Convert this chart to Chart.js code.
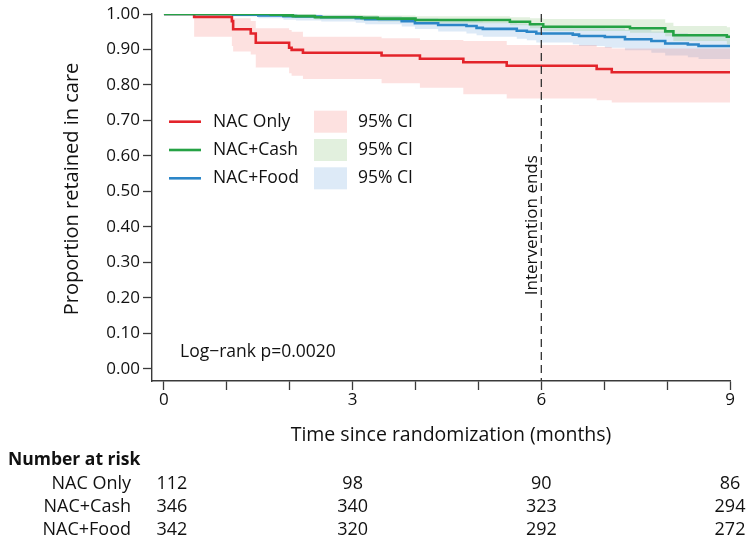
<!DOCTYPE html>
<html>
<head>
<meta charset="utf-8">
<script src="https://cdn.jsdelivr.net/npm/chart.js@4.4.1/dist/chart.umd.min.js"></script>
<style>
html,body{margin:0;padding:0;background:#fff;}
#wrap{position:relative;width:754px;height:542px;}
</style>
</head>
<body>
<div id="wrap"><canvas id="c" width="754" height="542"></canvas></div>
<script>
// ---------- data ----------
const groups = ['NAC Only', 'NAC+Cash', 'NAC+Food'];
const riskMonths = [0, 3, 6, 9];
const riskNacOnly = [112, 98, 90, 86];
const riskNacCash = [346, 340, 323, 294];
const riskNacFood = [342, 320, 292, 272];
const xTickValues = [0, 1, 2, 3, 4, 5, 6, 7, 8, 9];
const xTickLabels = ['0', '', '', '3', '', '', '6', '', '', '9'];
const yTickValues = [0, 0.1, 0.2, 0.3, 0.4, 0.5, 0.6, 0.7, 0.8, 0.9, 1.0];
const interventionEnd = 6;
const pValueText = 'Log\u2212rank p=0.0020';

// NAC Only (Kaplan-Meier steps)
const onlyT  = [0, 0.48, 1.08, 1.10, 1.38, 1.46, 1.99, 2.03, 2.21, 3.46, 4.07, 4.76, 5.45, 6.88, 7.12, 9.0];
const onlyS  = [1.000, 0.992, 0.980, 0.957, 0.945, 0.919, 0.905, 0.899, 0.891, 0.883, 0.874, 0.864, 0.854, 0.845, 0.836, 0.836];
const onlyLo = [1.000, 0.936, 0.910, 0.894, 0.886, 0.849, 0.833, 0.826, 0.817, 0.805, 0.792, 0.774, 0.762, 0.757, 0.751, 0.751];
const onlyHi = [1.000, 0.999, 0.995, 0.988, 0.980, 0.960, 0.955, 0.950, 0.936, 0.932, 0.927, 0.924, 0.913, 0.907, 0.903, 0.903];

// NAC+Cash
const cashT  = [0, 1.7, 1.9, 2.05, 2.4, 3.14, 3.4, 4.0, 5.5, 5.82, 6.03, 7.41, 7.97, 8.1, 8.95, 9.0];
const cashS  = [1.000, 0.998, 0.996, 0.994, 0.991, 0.989, 0.987, 0.983, 0.978, 0.971, 0.964, 0.960, 0.951, 0.940, 0.936, 0.936];
const cashLo = [1.000, 0.995, 0.992, 0.989, 0.985, 0.982, 0.979, 0.974, 0.968, 0.960, 0.952, 0.947, 0.937, 0.924, 0.915, 0.915];
const cashHi = [1.000, 1.000, 1.000, 0.999, 0.998, 0.997, 0.996, 0.994, 0.991, 0.988, 0.986, 0.985, 0.975, 0.966, 0.963, 0.963];

// NAC+Food
const foodT  = [0, 1.1, 1.5, 1.9, 2.1, 2.5, 3.05, 3.2, 3.78, 3.99, 4.36, 4.81, 4.97, 5.07, 5.61, 5.77, 5.92, 6.5, 6.6, 7.01, 7.33, 7.75, 7.97, 8.33, 8.5, 9.0];
const foodS  = [1.000, 0.998, 0.996, 0.994, 0.993, 0.991, 0.988, 0.985, 0.980, 0.974, 0.969, 0.966, 0.961, 0.958, 0.953, 0.950, 0.945, 0.942, 0.938, 0.935, 0.929, 0.924, 0.917, 0.914, 0.910, 0.910];
const foodLo = [1.000, 0.993, 0.988, 0.984, 0.982, 0.979, 0.975, 0.971, 0.965, 0.958, 0.951, 0.945, 0.940, 0.936, 0.930, 0.926, 0.920, 0.915, 0.910, 0.905, 0.898, 0.891, 0.883, 0.878, 0.873, 0.873];
const foodHi = [1.000, 1.000, 1.000, 0.999, 0.998, 0.997, 0.995, 0.994, 0.991, 0.987, 0.984, 0.982, 0.979, 0.977, 0.973, 0.971, 0.967, 0.965, 0.962, 0.960, 0.955, 0.951, 0.946, 0.943, 0.940, 0.940];

// ---------- styles ----------
const FONT = "'Open Sans', 'Noto Sans', sans-serif";
const colRed = '#E3242B', colGreen = '#25A245', colBlue = '#2C86C8';
const ciRed = 'rgba(244, 80, 70, 0.17)';
const ciGreen = 'rgba(110, 180, 90, 0.20)';
const ciBlue = 'rgba(100, 160, 220, 0.22)';
const axisCol = '#3a3a3a';

const pts = (t, v) => t.map((x, i) => ({x: x, y: v[i]}));
const ci = (label, t, lo, hi, color) => ([
  {label: label + ' lo', data: pts(t, lo), stepped: true, borderWidth: 0, pointRadius: 0, fill: false, borderColor: 'rgba(0,0,0,0)'},
  {label: label + ' hi', data: pts(t, hi), stepped: true, borderWidth: 0, pointRadius: 0, fill: '-1', backgroundColor: color, borderColor: 'rgba(0,0,0,0)'}
]);
const line = (label, t, s, color) => ({label: label, data: pts(t, s), stepped: true, borderColor: color, borderWidth: 2.6, pointRadius: 0, fill: false});

const datasets = [
  line(groups[1], cashT, cashS, colGreen),
  line(groups[2], foodT, foodS, colBlue),
  line(groups[0], onlyT, onlyS, colRed),
  ...ci(groups[0], onlyT, onlyLo, onlyHi, ciRed),
  ...ci(groups[1], cashT, cashLo, cashHi, ciGreen),
  ...ci(groups[2], foodT, foodLo, foodHi, ciBlue),
];

const extras = {
  id: 'extras',
  afterDatasetsDraw(chart) {
    const ctx = chart.ctx, xs = chart.scales.x, ys = chart.scales.y, ca = chart.chartArea;
    ctx.save();
    // intervention line
    const xi = xs.getPixelForValue(interventionEnd);
    ctx.strokeStyle = '#333';
    ctx.lineWidth = 1.3;
    ctx.setLineDash([8, 5]);
    ctx.beginPath(); ctx.moveTo(xi, ca.top); ctx.lineTo(xi, ca.bottom); ctx.stroke();
    ctx.setLineDash([]);
    ctx.fillStyle = '#111';
    ctx.font = '17px ' + FONT;
    ctx.save();
    ctx.translate(xi - 9, ys.getPixelForValue(0.405));
    ctx.rotate(-Math.PI / 2);
    ctx.textAlign = 'center'; ctx.textBaseline = 'middle';
    ctx.fillText('Intervention ends', 0, 0);
    ctx.restore();

    // legend
    const lines = [colRed, colGreen, colBlue];
    const fills = [ciRed, ciGreen, ciBlue];
    const rowsY = [121.7, 150, 178.3];
    ctx.font = '17.5px ' + FONT;
    ctx.textBaseline = 'middle'; ctx.textAlign = 'left';
    for (let i = 0; i < 3; i++) {
      const y = rowsY[i];
      ctx.strokeStyle = lines[i]; ctx.lineWidth = 2.6;
      ctx.beginPath(); ctx.moveTo(169, y); ctx.lineTo(201, y); ctx.stroke();
      ctx.fillStyle = '#111';
      ctx.fillText(groups[i], 213, y);
      ctx.fillStyle = fills[i];
      ctx.fillRect(314, y - 11, 33, 22);
      ctx.fillStyle = '#111';
      ctx.fillText('95% CI', 358, y);
    }
    // p value
    ctx.font = '17.5px ' + FONT;
    ctx.fillText(pValueText, 180, 352);

    // axis titles
    ctx.font = '19.5px ' + FONT;
    ctx.textAlign = 'center';
    ctx.fillText('Time since randomization (months)', (ca.left + ca.right) / 2 + 10, 435);
    ctx.save();
    ctx.font = '20px ' + FONT;
    ctx.translate(72, 189);
    ctx.rotate(-Math.PI / 2);
    ctx.fillText('Proportion retained in care', 0, 0);
    ctx.restore();

    // risk table
    ctx.font = 'bold 17.5px ' + FONT;
    ctx.textAlign = 'left';
    ctx.fillText('Number at risk', 8, 460);
    ctx.font = '18px ' + FONT;
    const risk = [riskNacOnly, riskNacCash, riskNacFood];
    const ry = [484, 507, 530];
    for (let r = 0; r < 3; r++) {
      ctx.textAlign = 'right';
      ctx.fillText(groups[r], 131, ry[r]);
      ctx.textAlign = 'center';
      riskMonths.forEach((m, j) => {
        ctx.fillText(String(risk[r][j]), xs.getPixelForValue(m) + (j === 0 ? 8 : 0), ry[r]);
      });
    }
    ctx.restore();
  }
};

new Chart(document.getElementById('c'), {
  type: 'line',
  data: {datasets: datasets},
  options: {
    responsive: false,
    animation: false,
    events: [],
    layout: {padding: {top: 14, right: 24, left: 0, bottom: 0}},
    plugins: {legend: {display: false}, tooltip: {enabled: false}, filler: {drawTime: 'beforeDatasetsDraw'}},
    scales: {
      x: {
        type: 'linear', min: -0.19, max: 9,
        afterBuildTicks: s => { s.ticks = xTickValues.map(v => ({value: v})); },
        afterFit: s => { s.height = 161; },
        ticks: {autoSkip: false, maxRotation: 0, padding: 0, color: '#111', font: {family: FONT, size: 17},
          callback: (v) => { const i = xTickValues.indexOf(v); return i >= 0 ? xTickLabels[i] : ''; }},
        grid: {drawOnChartArea: false, drawTicks: true, tickLength: 9, tickColor: axisCol, tickWidth: 1.3},
        border: {display: true, color: axisCol, width: 1.4}
      },
      y: {
        type: 'linear', min: -0.034, max: 1.0,
        afterBuildTicks: s => { s.ticks = yTickValues.map(v => ({value: v})); },
        afterFit: s => { s.width = 152; },
        ticks: {autoSkip: false, padding: 3, color: '#111', font: {family: FONT, size: 17},
          callback: v => v.toFixed(2)},
        grid: {drawOnChartArea: false, drawTicks: true, tickLength: 9, tickColor: axisCol, tickWidth: 1.3},
        border: {display: true, color: axisCol, width: 1.4}
      }
    }
  },
  plugins: [extras]
});
</script>
</body>
</html>
